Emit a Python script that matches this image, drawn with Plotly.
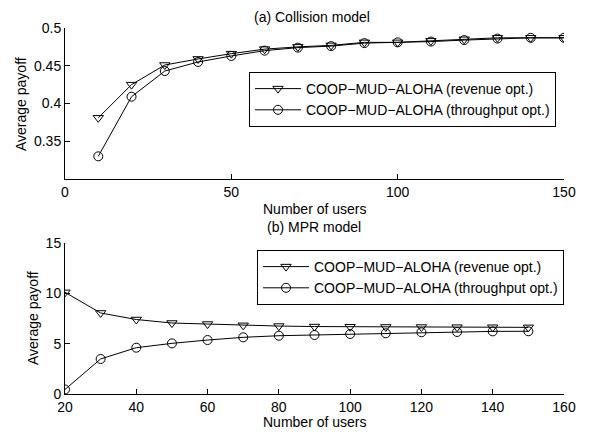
import plotly.graph_objects as go

# ---- data ----
users_a = [10, 20, 30, 40, 50, 60, 70, 80, 90, 100, 110, 120, 130, 140, 150]
revenue_a = [0.381, 0.425, 0.451, 0.459, 0.466, 0.472, 0.475, 0.477, 0.481, 0.481, 0.483, 0.485, 0.487, 0.487, 0.487]
throughput_a = [0.330, 0.409, 0.443, 0.455, 0.463, 0.470, 0.474, 0.476, 0.480, 0.481, 0.482, 0.484, 0.486, 0.487, 0.487]

users_b = [20, 30, 40, 50, 60, 70, 80, 90, 100, 110, 120, 130, 140, 150]
revenue_b = [10.1, 8.05, 7.4, 7.05, 6.95, 6.82, 6.75, 6.7, 6.68, 6.66, 6.65, 6.64, 6.63, 6.62]
throughput_b = [0.45, 3.48, 4.6, 5.03, 5.36, 5.63, 5.79, 5.86, 5.96, 6.03, 6.13, 6.16, 6.22, 6.23]

name_rev = "COOP\u2212MUD\u2212ALOHA (revenue opt.)"
name_thr = "COOP\u2212MUD\u2212ALOHA (throughput opt.)"

xticks_a = [0, 50, 100, 150]
yticks_a = [0.3, 0.35, 0.4, 0.45, 0.5]
yticklabels_a = ["", "0.35", "0.4", "0.45", "0.5"]
xticks_b = [20, 40, 60, 80, 100, 120, 140, 160]
yticks_b = [0, 5, 10, 15]

# page body has an 8px margin; figure is sized to fit inside the window
OFF = 8
W, H = 593 - OFF, 433 - OFF
FONT = "Liberation Sans, Arial, Helvetica, sans-serif"

def px_x(p):
    return (p - OFF) / W

def px_y(p):
    return (H - (p - OFF)) / H

fig = go.Figure()

line = dict(color="black", width=1)
mk_tri = dict(symbol="triangle-down-open", size=9, color="black", line=dict(width=1, color="black"))
mk_cir = dict(symbol="circle-open", size=9, color="black", line=dict(width=1, color="black"))

fig.add_trace(go.Scatter(x=users_a, y=revenue_a, mode="lines+markers", name=name_rev,
                         line=line, marker=mk_tri, xaxis="x", yaxis="y", legend="legend"))
fig.add_trace(go.Scatter(x=users_a, y=throughput_a, mode="lines+markers", name=name_thr,
                         line=line, marker=mk_cir, xaxis="x", yaxis="y", legend="legend"))
fig.add_trace(go.Scatter(x=users_b, y=revenue_b, mode="lines+markers", name=name_rev,
                         line=line, marker=mk_tri, xaxis="x2", yaxis="y2", legend="legend2"))
fig.add_trace(go.Scatter(x=users_b, y=throughput_b, mode="lines+markers", name=name_thr,
                         line=line, marker=mk_cir, xaxis="x2", yaxis="y2", legend="legend2"))

xdom = [px_x(65), px_x(564)]
ax_common = dict(showline=True, linecolor="black", linewidth=1, mirror=False,
                 ticks="inside", ticklen=5, tickcolor="black", tickwidth=1,
                 showgrid=False, zeroline=False, automargin=False,
                 tickfont=dict(family=FONT, size=14, color="black"))

leg_common = dict(xanchor="left", yanchor="top",
                  bgcolor="white", bordercolor="black", borderwidth=1,
                  font=dict(family=FONT, size=14, color="black"),
                  itemwidth=46, tracegroupgap=0)

fig.update_layout(
    width=W, height=H,
    margin=dict(l=0, r=0, t=0, b=0, autoexpand=False),
    paper_bgcolor="white", plot_bgcolor="white",
    font=dict(family=FONT, size=14, color="black"),
    xaxis=dict(domain=xdom, anchor="y", range=[0, 150], tickvals=xticks_a, **ax_common),
    yaxis=dict(domain=[px_y(179), px_y(28)], anchor="x", range=[0.3, 0.5],
               tickvals=yticks_a, ticktext=yticklabels_a, **ax_common),
    xaxis2=dict(domain=xdom, anchor="y2", range=[20, 160], tickvals=xticks_b, **ax_common),
    yaxis2=dict(domain=[px_y(394), px_y(243)], anchor="x2", range=[0, 15],
                tickvals=yticks_b, **ax_common),
    legend=dict(x=px_x(249), y=px_y(72), **leg_common),
    legend2=dict(x=px_x(257), y=px_y(250), **leg_common),
    showlegend=True,
)

ann_font = dict(family=FONT, size=14, color="black")
annotations = [
    dict(text="(a) Collision model", x=px_x(312), y=px_y(17)),
    dict(text="Number of users", x=px_x(314), y=px_y(209)),
    dict(text="(b) MPR model", x=px_x(314), y=px_y(227)),
    dict(text="Number of users", x=px_x(314), y=px_y(422)),
    dict(text="Average payoff", x=px_x(21), y=px_y(104), textangle=-90),
    dict(text="Average payoff", x=px_x(33), y=px_y(318), textangle=-90),
]
fig.update_layout(annotations=[dict(a, xref="paper", yref="paper", xanchor="center",
                                    yanchor="middle", showarrow=False, font=ann_font)
                               for a in annotations])

fig.write_html("out.html")
